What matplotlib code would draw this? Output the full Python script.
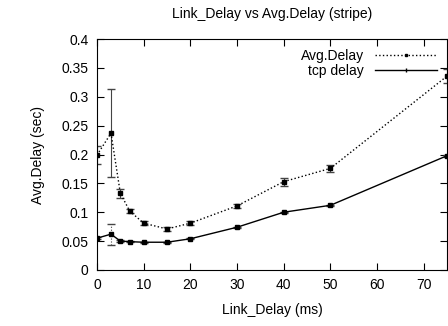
import matplotlib
matplotlib.use("Agg")
from matplotlib import pyplot as plt
from matplotlib.lines import Line2D

plt.rcParams['font.family'] = ['Liberation Sans', 'DejaVu Sans']

# datos
link_delay = [0, 3, 5, 7, 10, 15, 20, 30, 40, 50, 75]
avg_delay = [0.199, 0.237, 0.133, 0.102, 0.081, 0.071, 0.081, 0.111, 0.153, 0.176, 0.336]
avg_err = [0.016, 0.076, 0.008, 0.004, 0.004, 0.003, 0.003, 0.004, 0.007, 0.006, 0.012]
tcp_delay = [0.055, 0.062, 0.050, 0.049, 0.048, 0.048, 0.054, 0.074, 0.100, 0.112, 0.198]
tcp_err = [0.002, 0.018, 0.002, 0.001, 0.001, 0.001, 0.001, 0.001, 0.001, 0.001, 0.002]

fig = plt.figure(figsize=(4.48, 3.26), dpi=100)
ax = fig.add_axes([0.2165, 0.172, 0.7815, 0.708])

ax.errorbar(link_delay, avg_delay, yerr=avg_err, color='black', ls=':', lw=1,
            marker='s', ms=2.5, capsize=3, elinewidth=0.8, ecolor='#444444')
e = ax.errorbar(link_delay, tcp_delay, yerr=tcp_err, color='black', ls='-', lw=1,
                marker='s', ms=2.5, capsize=3, elinewidth=0.8, ecolor='#444444')
e[2][0].set_linestyle(':')

ax.set_xlim(0, 75)
ax.set_ylim(0, 0.4)
ax.set_xticks([0, 10, 20, 30, 40, 50, 60, 70])
ax.set_yticks([0, 0.05, 0.1, 0.15, 0.2, 0.25, 0.3, 0.35, 0.4])
ax.set_yticklabels(['0', '0.05', '0.1', '0.15', '0.2', '0.25', '0.3', '0.35', '0.4'])
ax.tick_params(direction='in', top=True, right=True, length=5, labelsize=10, pad=6)

ax.set_title("Link_Delay vs Avg.Delay (stripe)", fontsize=10, pad=15)
ax.set_xlabel("Link_Delay (ms)", fontsize=10, labelpad=8)
ax.set_ylabel("Avg.Delay (sec)", fontsize=10, labelpad=12)

handles = [Line2D([], [], color='black', ls=':', lw=1, marker='s', ms=2),
           Line2D([], [], color='black', ls='-', lw=1, marker='|', ms=3)]
leg = ax.legend(handles, ['Avg.Delay', 'tcp delay'], loc='upper right', frameon=False,
                fontsize=10, markerfirst=False, handlelength=4.5, borderaxespad=0.3,
                labelspacing=0.05, handletextpad=0.8, borderpad=0.4)
for t in leg.get_texts():
    t.set_ha('right')

fig.savefig("out.png", dpi=100)
